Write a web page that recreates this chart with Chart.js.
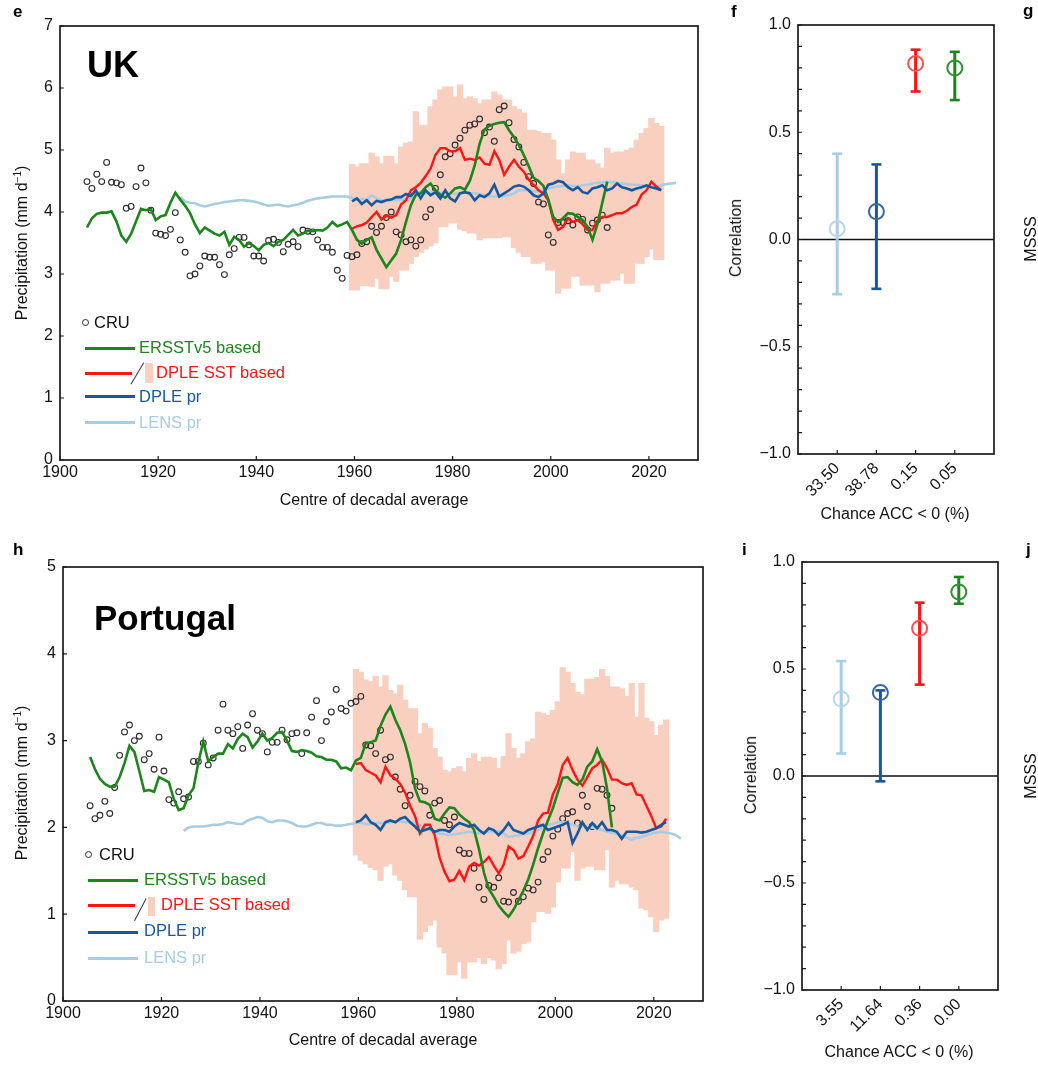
<!DOCTYPE html>
<html>
<head>
<meta charset="utf-8">
<script src="https://cdn.jsdelivr.net/npm/chart.js@4.4.1/dist/chart.umd.min.js"></script>
<style>
  body { margin: 0; background: #fff; width: 1038px; height: 1076px; overflow: hidden; position: relative;
         font-family: "Liberation Sans", Arial, Helvetica, sans-serif; color: #111; }
  canvas { position: absolute; }
  .t { position: absolute; white-space: nowrap; font-size: 16px; line-height: 16px; }
  .lg { position: absolute; white-space: nowrap; font-size: 16.5px; line-height: 16.5px; }
  .ht { transform: translateX(-50%); }
  .vt { transform: translate(-50%, -50%) rotate(-90deg); }
  .pl { position: absolute; font-weight: bold; font-size: 17px; line-height: 17px; color: #000; }
  .big { position: absolute; font-weight: bold; font-size: 36px; line-height: 36px; color: #000; }
  .sw { position: absolute; height: 3px; width: 50px; }
  .dot { position: absolute; width: 7px; height: 7px; box-sizing: border-box; border: 1.2px solid #2b2b2b; border-radius: 50%; }
  .slash { position: absolute; height: 1.4px; width: 25px; background: #333; }
  sup { font-size: 10px; line-height: 0; }
</style>
</head>
<body>
<canvas id="cUK" width="712" height="510" style="left:0;top:0"></canvas>
<canvas id="cUKr" width="320" height="500" style="left:700px;top:0"></canvas>
<canvas id="cPT" width="715" height="510" style="left:0;top:540px"></canvas>
<canvas id="cPTr" width="320" height="500" style="left:700px;top:540px"></canvas>

<!-- panel letters and titles -->
<div class="pl" style="left:13px;top:3px">e</div>
<div class="pl" style="left:731px;top:3px">f</div>
<div class="pl" style="left:1023px;top:2px">g</div>
<div class="pl" style="left:13px;top:541px">h</div>
<div class="pl" style="left:742px;top:541px">i</div>
<div class="pl" style="left:1026px;top:541px">j</div>
<div class="big" style="left:87px;top:47px">UK</div>
<div class="big" style="left:94px;top:600px;font-size:35px;line-height:35px">Portugal</div>

<!-- axis titles -->
<div class="t vt" style="left:21.5px;top:243px">Precipitation (mm d<sup>−1</sup>)</div>
<div class="t ht" style="left:374px;top:492px">Centre of decadal average</div>
<div class="t vt" style="left:21.5px;top:783px">Precipitation (mm d<sup>−1</sup>)</div>
<div class="t ht" style="left:383px;top:1032px">Centre of decadal average</div>
<div class="t vt" style="left:735.5px;top:238px">Correlation</div>
<div class="t ht" style="left:895px;top:506px">Chance ACC &lt; 0 (%)</div>
<div class="t vt" style="left:750.5px;top:775px">Correlation</div>
<div class="t ht" style="left:899px;top:1044px">Chance ACC &lt; 0 (%)</div>
<div class="t vt" style="left:1030.5px;top:239px">MSSS</div>
<div class="t vt" style="left:1030.5px;top:776px">MSSS</div>

<!-- legend UK -->
<div class="dot" style="left:81.5px;top:318.5px"></div>
<div class="lg" style="left:94px;top:313.6px">CRU</div>
<div class="sw" style="left:85px;top:346.8px;background:#1b861b"></div>
<div class="lg" style="left:139px;top:338.6px;color:#1b861b">ERSSTv5 based</div>
<div class="sw" style="left:85px;top:371.8px;width:47px;background:#ff1414"></div>
<div class="slash" style="left:125.3px;top:373.3px;transform:rotate(-59.4deg)"></div>
<div style="position:absolute;left:145px;top:363px;width:7.5px;height:20px;background:#f9cfbf"></div>
<div class="lg" style="left:156px;top:363.6px;color:#ff1414">DPLE SST based</div>
<div class="sw" style="left:85px;top:395.2px;background:#15589e"></div>
<div class="lg" style="left:139px;top:387.9px;color:#15589e">DPLE pr</div>
<div class="sw" style="left:85px;top:420.8px;background:#a6cde3"></div>
<div class="lg" style="left:139px;top:413.6px;color:#a6cde3">LENS pr</div>

<!-- legend Portugal -->
<div class="dot" style="left:84.8px;top:850.5px"></div>
<div class="lg" style="left:99px;top:845.9px">CRU</div>
<div class="sw" style="left:88px;top:878.5px;background:#1b861b"></div>
<div class="lg" style="left:144px;top:870.9px;color:#1b861b">ERSSTv5 based</div>
<div class="sw" style="left:88px;top:904.2px;width:47px;background:#ff1414"></div>
<div class="slash" style="left:128.3px;top:908.8px;transform:rotate(-62.4deg)"></div>
<div style="position:absolute;left:148px;top:897.3px;width:7.3px;height:18.7px;background:#f9cfbf"></div>
<div class="lg" style="left:161px;top:895.9px;color:#ff1414">DPLE SST based</div>
<div class="sw" style="left:88px;top:931.2px;background:#15589e"></div>
<div class="lg" style="left:144px;top:921.9px;color:#15589e">DPLE pr</div>
<div class="sw" style="left:88px;top:956.8px;background:#a6cde3"></div>
<div class="lg" style="left:144px;top:948.6px;color:#a6cde3">LENS pr</div>

<script>
/* ---------------- data ---------------- */
// x positions: centre of decadal average (first decade 1901-1910 -> 1905.5)
const cruStart = 1905.5;
const dpleStart = 1959.5;
const lensStart = 1924.5;
const xTicks = [1900, 1920, 1940, 1960, 1980, 2000, 2020];

// UK (panel e)
const ukCru = [4.49,4.38,4.61,4.49,4.80,4.48,4.47,4.44,4.06,4.09,
  4.41,4.71,4.47,4.03,3.66,3.64,3.62,3.72,3.99,3.55,
  3.35,2.97,3.00,3.13,3.29,3.27,3.27,3.15,2.99,3.31,
  3.41,3.59,3.59,3.47,3.29,3.29,3.21,3.54,3.56,3.51,
  3.36,3.48,3.52,3.44,3.71,3.69,3.68,3.55,3.43,3.43,
  3.35,3.06,2.93,3.30,3.28,3.31,3.49,3.52,3.77,3.67,
  3.77,3.91,4.00,3.68,3.63,3.52,3.55,3.45,3.55,3.92,
  4.04,4.38,4.60,4.89,4.94,5.08,5.19,5.32,5.40,5.42,
  5.50,5.28,5.37,5.14,5.65,5.71,5.44,5.17,5.05,4.80,
  4.57,4.46,4.16,4.13,3.63,3.51,3.83,3.83,3.86,3.79,
  3.92,3.88,3.71,3.82,3.87,3.95,3.75];
const ukErsst = [3.75,3.90,3.97,3.99,3.99,4.01,3.85,3.62,3.52,3.65,
  3.85,4.05,4.03,4.05,3.87,3.93,3.95,4.15,4.31,4.20,
  4.10,3.98,3.80,3.66,3.75,3.70,3.65,3.62,3.68,3.47,
  3.60,3.55,3.44,3.50,3.45,3.38,3.47,3.50,3.45,3.52,
  3.55,3.63,3.71,3.62,3.65,3.70,3.69,3.71,3.70,3.75,
  3.84,3.77,3.80,3.84,3.71,3.55,3.49,3.55,3.59,3.39,
  3.25,3.11,3.22,3.33,3.55,3.84,4.11,4.28,4.30,4.40,
  4.46,4.35,4.28,4.23,4.30,4.38,4.40,4.36,4.50,4.75,
  5.10,5.33,5.39,5.42,5.44,5.45,5.32,5.21,5.08,4.92,
  4.74,4.55,4.50,4.42,4.20,3.92,3.84,3.90,3.98,3.97,
  3.92,3.87,3.76,3.55,3.80,4.15,4.49];
const ukDpleSst = [3.73,3.77,3.79,3.83,3.92,4.00,3.88,3.94,3.91,3.95,
  4.12,4.19,4.35,4.40,4.47,4.58,4.70,4.92,5.03,5.03,
  4.98,4.98,5.03,4.84,4.86,4.84,4.88,4.78,4.76,4.98,
  4.84,4.60,4.73,4.84,4.73,4.65,4.52,4.44,4.35,4.30,
  4.19,3.87,3.71,3.76,3.90,3.84,3.87,3.80,3.71,3.71,
  3.86,3.92,3.92,3.95,3.98,3.98,4.02,4.08,4.12,4.28,
  4.35,4.49,4.41,4.35];
const ukSstLow = [2.74,2.74,2.81,2.81,2.80,2.93,2.76,2.76,2.96,2.88,
  3.06,3.06,3.17,3.28,3.35,3.40,3.45,3.50,3.76,3.76,
  3.82,3.82,3.72,3.70,3.66,3.66,3.55,3.58,3.58,3.58,
  3.58,3.60,3.60,3.42,3.35,3.28,3.28,3.17,3.17,3.20,
  3.06,3.06,2.69,2.77,2.77,2.96,2.96,2.82,2.82,2.82,
  2.71,2.85,2.85,2.90,2.90,3.01,2.85,2.85,3.17,3.17,
  3.28,3.40,3.23,3.23];
const ukSstHigh = [4.77,4.73,4.78,4.78,4.95,4.89,4.78,4.90,4.90,4.78,
  5.05,5.11,5.13,5.62,5.40,5.40,5.70,5.81,5.97,6.02,
  6.02,5.86,6.05,5.83,5.86,5.83,5.75,5.81,5.81,5.94,
  5.89,5.81,5.81,5.70,5.65,5.60,5.32,5.32,5.30,5.27,
  5.27,5.16,4.84,4.62,4.84,4.97,4.95,4.95,4.84,4.84,
  4.78,4.71,5.03,4.95,4.97,4.97,5.00,5.03,5.16,5.27,
  5.35,5.51,5.43,5.38];
const ukDplePr = [4.17,4.22,4.13,4.19,4.11,4.18,4.16,4.19,4.20,4.24,
  4.24,4.29,4.26,4.35,4.22,4.35,4.27,4.32,4.22,4.35,
  4.22,4.17,4.30,4.32,4.30,4.19,4.27,4.24,4.30,4.44,
  4.25,4.30,4.35,4.41,4.43,4.41,4.35,4.27,4.24,4.30,
  4.44,4.46,4.50,4.48,4.40,4.35,4.40,4.32,4.30,4.38,
  4.40,4.43,4.35,4.38,4.46,4.40,4.38,4.35,4.38,4.40,
  4.43,4.40,4.38,4.35];
const ukLens = [4.24,4.17,4.15,4.14,4.11,4.09,4.11,4.13,4.14,4.16,
  4.17,4.18,4.19,4.19,4.18,4.17,4.15,4.12,4.10,4.11,
  4.12,4.10,4.09,4.11,4.12,4.15,4.18,4.20,4.22,4.23,
  4.24,4.25,4.25,4.25,4.25,4.23,4.20,4.21,4.20,4.27,
  4.22,4.19,4.19,4.20,4.19,4.20,4.20,4.21,4.25,4.33,
  4.30,4.31,4.33,4.31,4.31,4.30,4.29,4.31,4.33,4.31,
  4.30,4.29,4.27,4.25,4.25,4.25,4.26,4.27,4.30,4.35,
  4.35,4.35,4.34,4.33,4.36,4.38,4.40,4.41,4.42,4.43,
  4.42,4.42,4.43,4.44,4.46,4.47,4.48,4.49,4.48,4.47,
  4.46,4.45,4.44,4.44,4.43,4.41,4.41,4.41,4.43,4.45,
  4.46,4.47];

// Portugal (panel h)
const ptCru = [2.25,2.10,2.14,2.30,2.16,2.46,2.83,3.10,3.18,3.00,
  3.05,2.78,2.85,2.67,3.04,2.65,2.32,2.28,2.41,2.33,
  2.35,2.76,2.76,2.97,2.72,2.80,3.12,3.42,3.12,3.08,
  3.16,2.91,3.18,3.31,3.12,3.08,2.87,2.98,2.98,3.12,
  3.01,3.08,3.09,2.85,3.09,3.27,3.46,3.00,3.22,3.33,
  3.59,3.37,3.34,3.43,3.45,3.51,2.95,2.94,2.85,3.12,
  2.78,2.81,2.58,2.44,2.25,2.37,2.53,2.47,2.42,2.14,
  2.28,2.31,2.08,2.03,2.12,1.74,1.70,1.70,1.53,1.31,
  1.17,1.33,1.31,1.42,1.15,1.14,1.25,1.15,1.20,1.30,
  1.28,1.37,1.63,1.72,1.90,1.98,2.10,2.16,2.18,2.05,
  2.37,2.24,2.01,2.45,2.44,2.37,2.22];
const ptErsst = [2.81,2.67,2.56,2.50,2.47,2.47,2.58,2.74,2.94,2.87,
  2.65,2.42,2.43,2.41,2.58,2.55,2.52,2.33,2.20,2.22,
  2.37,2.45,2.75,2.99,2.76,2.81,2.85,2.85,2.96,2.91,
  3.02,3.08,3.04,2.92,2.99,3.08,3.00,3.03,3.09,3.10,
  3.00,2.88,2.87,2.89,2.88,2.86,2.82,2.81,2.78,2.78,
  2.76,2.68,2.69,2.66,2.77,2.80,2.97,2.98,3.00,3.17,
  3.30,3.39,3.24,3.12,2.96,2.75,2.45,2.30,2.29,2.26,
  2.10,2.08,2.16,2.23,2.22,2.15,2.10,2.06,1.97,1.75,
  1.48,1.29,1.20,1.10,1.03,0.97,1.05,1.16,1.27,1.40,
  1.57,1.76,1.93,2.08,2.22,2.40,2.57,2.58,2.52,2.49,
  2.55,2.70,2.76,2.90,2.76,2.45,2.00];
const ptDpleSst = [2.73,2.74,2.66,2.63,2.60,2.52,2.70,2.60,2.56,2.50,
  2.40,2.25,2.13,1.93,2.03,2.03,1.91,1.65,1.49,1.38,
  1.40,1.50,1.39,1.55,1.59,1.56,1.60,1.66,1.56,1.47,
  1.57,1.78,1.74,1.64,1.67,1.78,1.90,2.08,2.16,2.17,
  2.38,2.50,2.72,2.80,2.66,2.55,2.48,2.58,2.68,2.72,
  2.78,2.68,2.55,2.55,2.51,2.49,2.51,2.38,2.37,2.25,
  2.13,1.99,2.01,2.10];
const ptSstLow = [1.68,1.62,1.58,1.54,1.51,1.39,1.55,1.58,1.45,1.39,
  1.28,1.20,1.20,0.71,0.80,0.87,0.93,0.62,0.55,0.30,
  0.30,0.45,0.26,0.45,0.45,0.50,0.43,0.50,0.47,0.37,
  0.43,0.70,0.55,0.57,0.66,0.68,0.91,1.03,1.03,1.01,
  1.08,1.37,1.53,1.53,1.72,1.39,1.53,1.55,1.55,1.51,
  1.51,1.74,1.31,1.39,1.35,1.35,1.31,1.28,1.07,1.05,
  0.97,0.80,0.93,0.95];
const ptSstHigh = [3.82,3.79,3.70,3.68,3.74,3.62,3.75,3.58,3.54,3.64,
  3.47,3.37,3.37,3.08,3.20,3.14,2.91,2.81,2.66,2.64,
  2.68,2.70,2.64,2.80,2.85,2.76,2.81,2.81,2.80,2.68,
  2.82,3.08,2.91,2.80,2.85,2.99,3.02,3.33,3.31,3.29,
  3.35,3.45,3.84,3.79,3.66,3.56,3.53,3.71,3.71,3.73,
  3.82,3.74,3.62,3.62,3.60,3.51,3.66,3.27,3.66,3.26,
  3.22,3.06,3.18,3.24];
const ptDplePr = [2.06,2.08,2.14,2.06,2.03,1.97,2.06,2.08,2.06,2.10,
  2.12,2.06,2.01,1.95,1.97,1.99,1.95,1.97,1.97,1.95,
  2.01,2.05,2.03,2.01,2.03,1.97,1.93,1.99,1.97,1.91,
  1.97,2.05,1.97,1.95,1.93,1.97,1.99,2.01,2.03,1.97,
  1.99,2.01,2.03,2.06,1.82,1.93,2.06,1.97,2.05,1.99,
  2.06,1.97,1.97,1.95,1.87,1.95,1.95,1.95,1.94,1.95,
  1.97,1.99,2.03,2.06];
const ptLens = [1.96,2.00,2.01,2.01,2.01,2.02,2.03,2.03,2.04,2.06,
  2.05,2.04,2.04,2.08,2.10,2.12,2.11,2.07,2.06,2.08,
  2.08,2.07,2.05,2.02,2.01,2.01,2.03,2.05,2.05,2.03,
  2.03,2.02,2.02,2.03,2.04,2.05,2.05,2.04,2.04,2.05,
  2.05,2.06,2.06,2.07,2.07,2.06,2.06,2.05,2.02,1.99,
  1.97,1.95,1.93,1.92,1.91,1.92,1.93,1.94,1.95,1.94,
  1.93,1.94,1.95,1.95,1.96,1.93,1.89,1.90,1.91,1.92,
  1.93,1.95,1.97,2.00,2.03,2.04,2.06,2.06,2.05,2.03,
  2.01,2.01,2.01,2.00,1.99,1.97,1.95,1.94,1.92,1.91,
  1.88,1.86,1.88,1.89,1.91,1.93,1.94,1.95,1.94,1.93,
  1.91,1.87];

// correlation panels: LENS pr, DPLE pr, DPLE SST based, ERSSTv5 based
const ukChance = ['33.50', '38.78', '0.15', '0.05'];
const ukAcc = [0.05, 0.13, 0.82, 0.80];
const ukAccLow = [-0.255, -0.23, 0.69, 0.65];
const ukAccHigh = [0.40, 0.35, 0.885, 0.875];
const ptChance = ['3.55', '11.64', '0.36', '0.00'];
const ptAcc = [0.36, 0.39, 0.69, 0.86];
const ptAccLow = [0.105, -0.025, 0.427, 0.805];
const ptAccHigh = [0.537, 0.40, 0.81, 0.93];

/* ---------------- style ---------------- */
const FONT = '"Liberation Sans", Arial, Helvetica, sans-serif';
const GREEN = '#1b861b', RED = '#ff1414', BLUE = '#15589e', LBLUE = '#a6cde3', PINK = '#f9cfbf', DOT = '#2b2b2b';
const accColors = [LBLUE, BLUE, RED, GREEN];
const ringColors = ['#b6d7ea', '#3468a6', '#ff5050', '#2f942f'];

Chart.defaults.font.family = FONT;
Chart.defaults.font.size = 16;
Chart.defaults.color = '#111';

// box round the plot + short inward tick marks
const framePlugin = {
  id: 'frame',
  afterDatasetsDraw(chart, args, opts) {
    const { ctx, chartArea: a } = chart;
    const xs = chart.scales.x, ys = chart.scales.y;
    ctx.save();
    ctx.strokeStyle = '#1a1a1a';
    ctx.lineWidth = 1.2;
    ctx.beginPath();
    xs.ticks.forEach(t => {
      const px = xs.getPixelForValue(t.value);
      ctx.moveTo(px, a.bottom);
      ctx.lineTo(px, a.bottom - opts.len);
    });
    ys.ticks.forEach(t => {
      const py = ys.getPixelForValue(t.value);
      ctx.moveTo(a.left, py);
      ctx.lineTo(a.left + opts.len, py);
    });
    ctx.stroke();
    ctx.lineWidth = 1.7;
    ctx.strokeRect(a.left, a.top, a.right - a.left, a.bottom - a.top);
    ctx.restore();
  }
};

const pts = (start, vals) => vals.map((v, i) => ({ x: start + i, y: v }));
const band = (start, lo, hi) => lo.map((v, i) => ({ x: start + i, y: [v, hi[i]] }));
const noGrid = { display: false, drawTicks: false };

function lineSet(data, color, order, width) {
  return { type: 'line', data, borderColor: color, borderWidth: width || 2.6, pointRadius: 0, tension: 0, order };
}

function seriesChart(id, s) {
  new Chart(document.getElementById(id), {
    type: 'line',
    data: {
      datasets: [
        lineSet(pts(dpleStart, s.dplePr), BLUE, 0),
        lineSet(pts(cruStart, s.ersst), GREEN, 1),
        lineSet(pts(dpleStart, s.dpleSst), RED, 2, 2.4),
        lineSet(pts(lensStart, s.lens), LBLUE, 3),
        { type: 'scatter', data: pts(cruStart, s.cru), pointRadius: 2.9, pointBorderWidth: 1.1,
          pointBorderColor: DOT, pointBackgroundColor: 'rgba(0,0,0,0)', order: 4 },
        { type: 'bar', data: band(dpleStart, s.low, s.high), backgroundColor: PINK, borderWidth: 0,
          barThickness: 5.6, grouped: false, order: 5 }
      ]
    },
    options: {
      responsive: false, animation: false, devicePixelRatio: 1,
      layout: { padding: s.pad },
      plugins: { legend: { display: false }, tooltip: { enabled: false }, frame: { len: 4 } },
      scales: {
        x: {
          type: 'linear', min: 1900, max: 2030, offset: false,
          grid: noGrid, border: { display: false },
          ticks: { stepSize: 20, padding: 3, maxRotation: 0, autoSkip: false, callback: v => String(v) },
          afterBuildTicks: sc => { sc.ticks = xTicks.map(v => ({ value: v })); },
          afterFit: sc => { sc.height = s.xH; }
        },
        y: {
          min: 0, max: s.ymax,
          grid: noGrid, border: { display: false },
          ticks: { stepSize: 1, padding: 7 },
          afterFit: sc => { sc.width = s.yW; }
        }
      }
    },
    plugins: [framePlugin]
  });
}

function accChart(id, s) {
  const sets = [];
  s.acc.forEach((v, i) => {
    const x = i + 1;
    sets.push({ type: 'scatter', data: [{ x, y: v }], pointStyle: 'circle', pointRadius: 7.5,
      pointBorderWidth: 2, pointBorderColor: ringColors[i], pointBackgroundColor: 'rgba(0,0,0,0)', order: 0 });
    sets.push({ type: 'scatter', data: [{ x, y: s.low[i] }, { x, y: s.high[i] }], pointStyle: 'line',
      pointRadius: 5, pointBorderWidth: 2.6, pointBorderColor: accColors[i], order: 1 });
    sets.push(lineSet([{ x, y: s.low[i] }, { x, y: s.high[i] }], accColors[i], 1, 3));
  });
  sets.push(lineSet([{ x: 0, y: 0 }, { x: 5, y: 0 }], '#111', 3, 1.5));

  new Chart(document.getElementById(id), {
    type: 'line',
    data: { datasets: sets },
    options: {
      responsive: false, animation: false, devicePixelRatio: 1,
      layout: { padding: s.pad },
      plugins: { legend: { display: false }, tooltip: { enabled: false }, frame: { len: 4 } },
      scales: {
        x: {
          type: 'linear', min: 0, max: 5, offset: false,
          grid: noGrid, border: { display: false },
          ticks: { padding: 5, minRotation: 45, maxRotation: 45, autoSkip: false, callback: (v, i) => s.cats[i] },
          afterBuildTicks: sc => { sc.ticks = s.cats.map((c, i) => ({ value: i + 1 })); },
          afterFit: sc => { sc.height = s.xH; }
        },
        y: {
          min: -1, max: 1,
          grid: noGrid, border: { display: false },
          ticks: {
            stepSize: 0.1, padding: 7, autoSkip: false,
            callback: v => Math.abs(v * 2 - Math.round(v * 2)) < 1e-6
              ? (v < -1e-6 ? '\u2212' : '') + Math.abs(v).toFixed(1) : ''
          },
          afterFit: sc => { sc.width = s.yW; }
        }
      }
    },
    plugins: [framePlugin]
  });
}

seriesChart('cUK', { cru: ukCru, ersst: ukErsst, dpleSst: ukDpleSst, low: ukSstLow, high: ukSstHigh,
  dplePr: ukDplePr, lens: ukLens, ymax: 7, yW: 60, xH: 50, pad: { top: 26, right: 14, left: 0, bottom: 0 } });
seriesChart('cPT', { cru: ptCru, ersst: ptErsst, dpleSst: ptDpleSst, low: ptSstLow, high: ptSstHigh,
  dplePr: ptDplePr, lens: ptLens, ymax: 5, yW: 63, xH: 49, pad: { top: 27, right: 12, left: 0, bottom: 0 } });
accChart('cUKr', { cats: ukChance, acc: ukAcc, low: ukAccLow, high: ukAccHigh,
  yW: 98, xH: 46, pad: { top: 25, right: 26, left: 0, bottom: 0 } });
accChart('cPTr', { cats: ptChance, acc: ptAcc, low: ptAccLow, high: ptAccHigh,
  yW: 102, xH: 50, pad: { top: 22, right: 22, left: 0, bottom: 0 } });
</script>
</body>
</html>
